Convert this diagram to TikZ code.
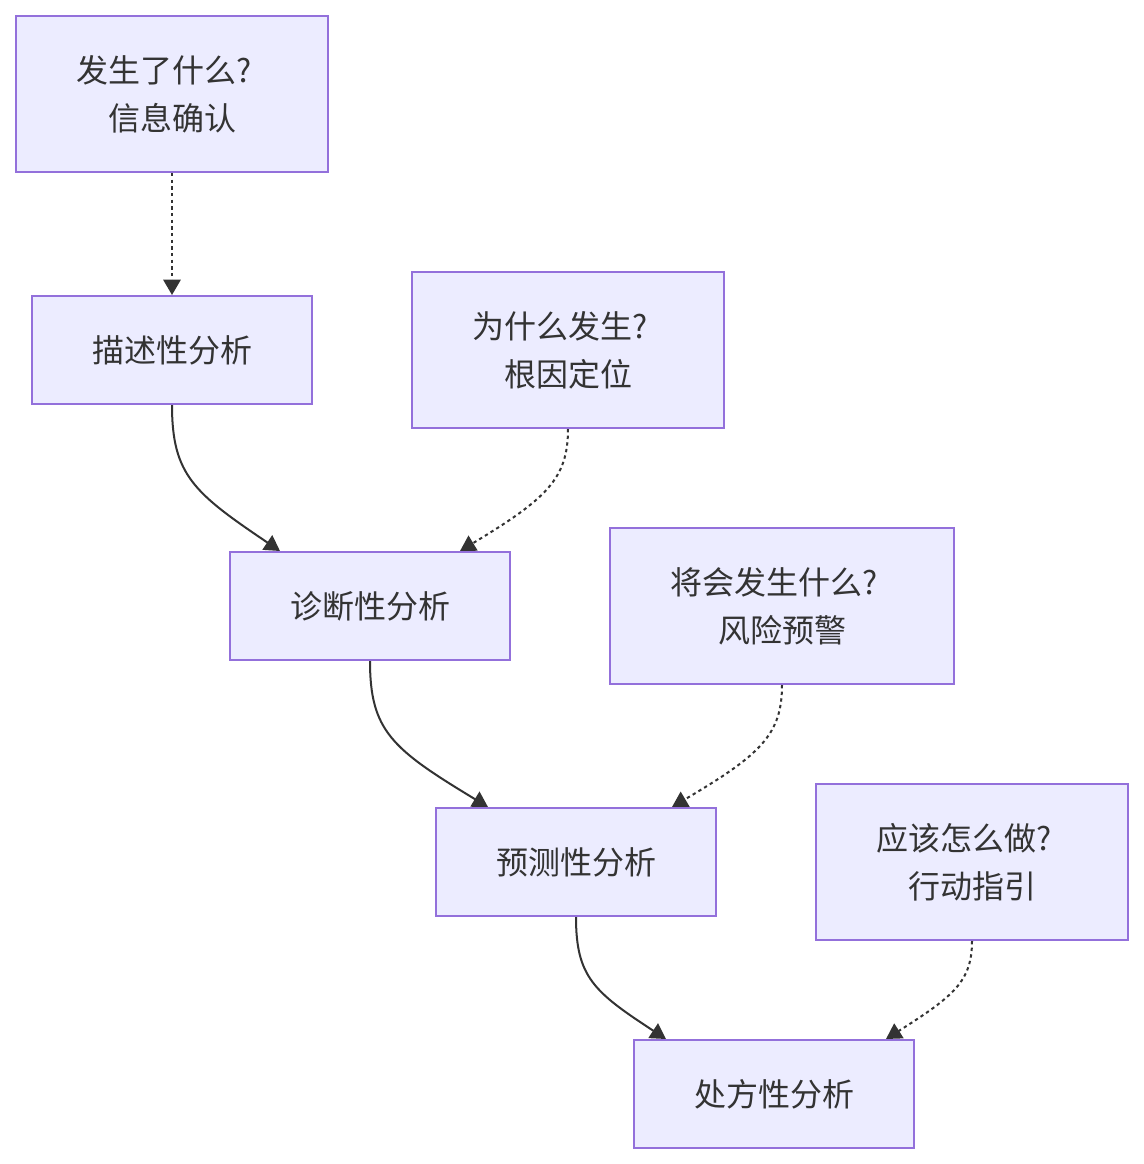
\documentclass[tikz,border=0pt]{standalone}
\usepackage{fontspec}
\setmainfont{Noto Sans CJK SC}
\usetikzlibrary{arrows.meta,calc}
\definecolor{boxfill}{HTML}{ECECFF}
\definecolor{boxline}{HTML}{9370DB}
\definecolor{ink}{HTML}{333333}
\begin{document}
\begin{tikzpicture}[x=0.75pt,y=-0.75pt,
  box/.style={draw=boxline,fill=boxfill,line width=1.5pt,text=ink,align=center,
    font=\fontsize{24}{36}\selectfont,inner sep=0pt},
  qbox/.style={box,minimum width=234pt,minimum height=117pt},
  abox/.style={box,minimum width=210pt,minimum height=81pt},
  link/.style={draw=ink,line width=1.5pt,-{Triangle[length=11.5pt,width=13pt]}},
  dlink/.style={link,dash pattern=on 2.5pt off 2.5pt},
]
\useasboundingbox (0,0) rectangle (1144,1164);
\node[qbox] (q1) at (172,94) {发生了什么?\kern.5em\\信息确认};
\node[abox] (a1) at (172,350) {描述性分析};
\node[qbox] (q2) at (568,350) {为什么发生?\kern.5em\\根因定位};
\node[abox] (a2) at (370,606) {诊断性分析};
\node[qbox,minimum width=258pt] (q3) at (782,606) {将会发生什么?\kern.5em\\风险预警};
\node[abox] (a3) at (576,862) {预测性分析};
\node[qbox] (q4) at (972,862) {应该怎么做?\kern.5em\\行动指引};
\node[abox] (a4) at (774,1094) {处方性分析};

\draw[dlink] (q1.south) -- (a1.north);
\draw[link] (a1.south) .. controls ($(a1.south)+(0,70)$) and ($(a1.south)+(22,88)$) .. ($(a2.north)+(-90,0)$);
\draw[dlink] (q2.south) .. controls ($(q2.south)+(0,50)$) and ($(q2.south)+(-22,70)$) .. ($(a2.north)+(90,0)$);
\draw[link] (a2.south) .. controls ($(a2.south)+(0,70)$) and ($(a2.south)+(22,88)$) .. ($(a3.north)+(-88,0)$);
\draw[dlink] (q3.south) .. controls ($(q3.south)+(0,50)$) and ($(q3.south)+(-22,70)$) .. ($(a3.north)+(96,0)$);
\draw[link] (a3.south) .. controls ($(a3.south)+(0,60)$) and ($(a3.south)+(18,75)$) .. ($(a4.north)+(-108,0)$);
\draw[dlink] (q4.south) .. controls ($(q4.south)+(0,40)$) and ($(q4.south)+(-18,55)$) .. ($(a4.north)+(112,0)$);
\end{tikzpicture}
\end{document}
